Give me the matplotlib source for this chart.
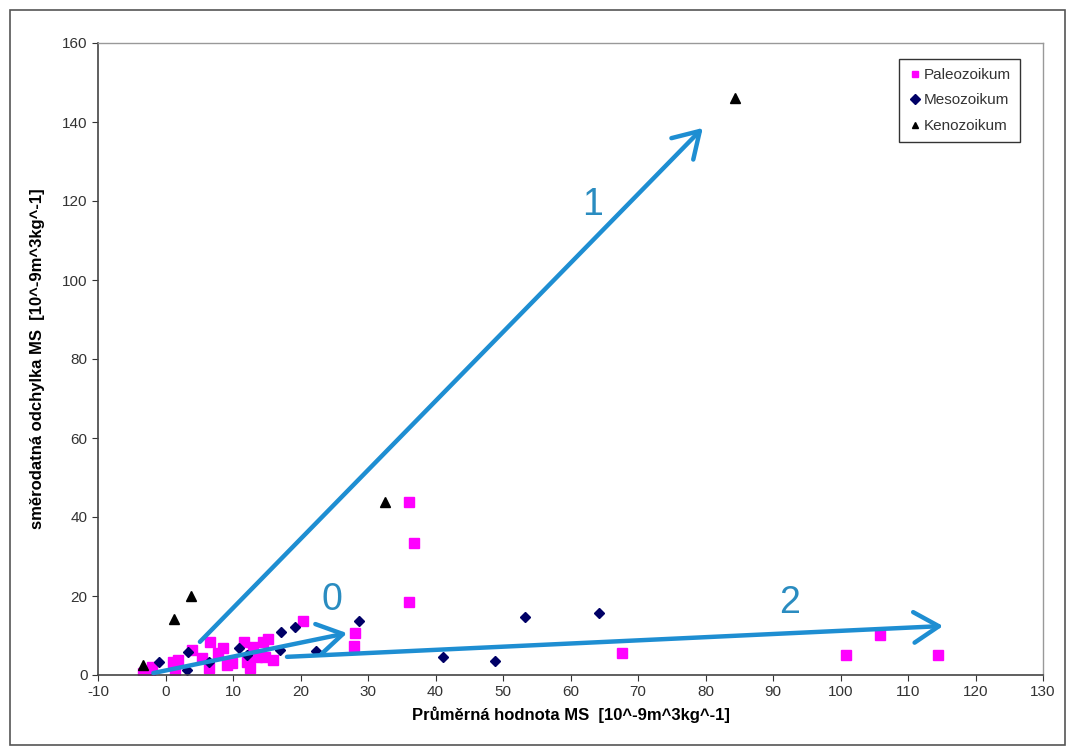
import matplotlib.pyplot as plt
from matplotlib.patches import Rectangle

plt.rcParams['font.family'] = ['Liberation Sans', 'DejaVu Sans']
plt.rcParams['axes.unicode_minus'] = False

# Paleozoikum
paleo_x = [-3.3, -2.3, -2.0, 1.1, 1.4, 1.9, 3.9, 5.4, 6.6, 6.4, 7.8, 8.5, 9.1, 9.9,
           11.6, 12.1, 12.5, 13.0, 13.5, 14.5, 15.2, 14.7, 15.9, 20.4,
           28.1, 27.9, 36.0, 36.8, 36.0, 67.7, 100.8, 105.9, 114.4]
paleo_y = [0.5, 0.5, 2.0, 3.3, 1.3, 3.8, 6.3, 4.3, 8.4, 1.8, 5.6, 6.8, 2.5, 3.0,
           8.4, 3.3, 1.8, 7.1, 4.6, 8.4, 9.1, 4.6, 3.8, 13.7,
           10.6, 7.3, 43.8, 33.4, 18.5, 5.5, 5.1, 10.1, 5.1]

# Mesozoikum
meso_x = [-1.0, 3.2, 3.3, 6.4, 10.9, 12.0, 17.0, 17.1, 19.2, 22.3, 28.7,
          41.1, 48.8, 53.3, 64.2]
meso_y = [3.2, 1.3, 5.8, 3.3, 6.8, 5.0, 6.3, 10.9, 12.2, 6.1, 13.7,
          4.5, 3.5, 14.7, 15.7]

# Kenozoikum
keno_x = [-3.4, 1.3, 3.8, 32.5, 84.4]
keno_y = [2.5, 14.1, 20.0, 43.8, 146.0]

# trend arrows: label, start, end, label position
arrow_names = ['0', '1', '2']
arrow_start = [(-1.8, 0.5), (5.1, 8.4), (18.0, 4.6)]
arrow_end = [(26.9, 10.6), (79.6, 138.5), (115.2, 12.4)]
arrow_label_pos = [(24.7, 19.0), (63.2, 119.0), (92.5, 18.2)]

fig = plt.figure(figsize=(10.75, 7.55), dpi=100)
fig.patches.append(Rectangle((10 / 1075, 10 / 755), 1055 / 1075, 735 / 755,
                             transform=fig.transFigure, fill=False,
                             edgecolor='#555555', linewidth=1.2))
ax = fig.add_axes([98 / 1075, 80 / 755, 945 / 1075, 632 / 755])

ax.plot(paleo_x, paleo_y, 's', color='#ff00ff', markersize=7, label='Paleozoikum',
        linestyle='none')
ax.plot(meso_x, meso_y, 'D', color='#000066', markersize=5, label='Mesozoikum',
        linestyle='none')
ax.plot(keno_x, keno_y, '^', color='black', markersize=7, label='Kenozoikum',
        linestyle='none')

for name, p0, p1, pl in zip(arrow_names, arrow_start, arrow_end, arrow_label_pos):
    ax.annotate('', xy=p1, xytext=p0,
                arrowprops=dict(arrowstyle='->,head_length=0.9,head_width=0.55',
                                color='#1e8ed2', lw=3.2, mutation_scale=20,
                                shrinkA=0, shrinkB=0))
    ax.text(pl[0], pl[1], name, color='#2a8cc0', fontsize=27,
            ha='center', va='center')

ax.set_xlim(-10, 130)
ax.set_ylim(0, 160)
ax.set_xticks(range(-10, 131, 10))
ax.set_yticks(range(0, 161, 20))
ax.tick_params(direction='out', length=4, labelsize=11, colors='#333333')
for side in ['left', 'bottom']:
    ax.spines[side].set_color('#444444')
    ax.spines[side].set_linewidth(1.2)
for side in ['top', 'right']:
    ax.spines[side].set_color('#999999')
    ax.spines[side].set_linewidth(1.0)

ax.set_xlabel('Průměrná hodnota MS  [10^-9m^3kg^-1]', fontsize=12,
              fontweight='bold', labelpad=5)
ax.set_ylabel('směrodatná odchylka MS  [10^-9m^3kg^-1]', fontsize=12,
              fontweight='bold', labelpad=12)

leg = ax.legend(loc='upper right', bbox_to_anchor=(0.9757, 0.975), fontsize=11,
                frameon=True, fancybox=False, handletextpad=0.2,
                handlelength=0.8, borderpad=0.6, labelspacing=0.75,
                borderaxespad=0)
leg.get_frame().set_edgecolor('black')
leg.get_frame().set_linewidth(1.0)
for h in leg.legend_handles:
    h.set_markersize(5)
for t in leg.get_texts():
    t.set_color('#333333')

fig.savefig('out.png', dpi=100)
